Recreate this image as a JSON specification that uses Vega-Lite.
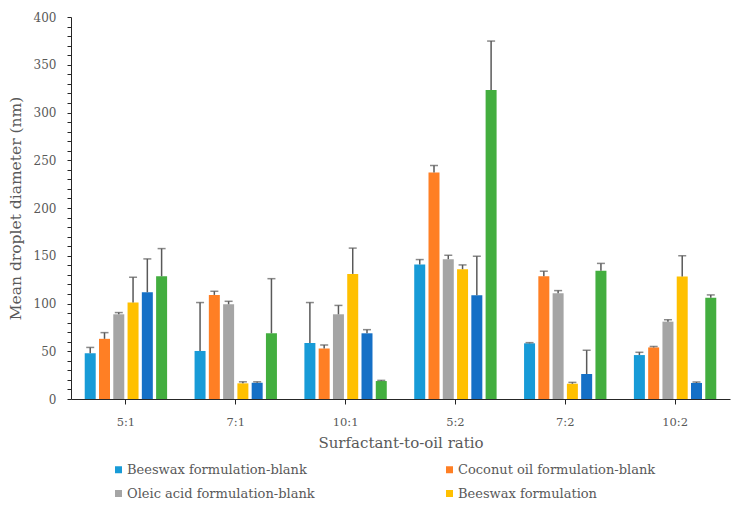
{
  "$schema": "https://vega.github.io/schema/vega-lite/v6.json",
  "width": 659,
  "height": 382,
  "autosize": {"type": "none"},
  "padding": {"left": 71, "top": 17, "right": 2, "bottom": 108},
  "background": "white",
  "config": {
    "font": "DejaVu Serif",
    "view": {"stroke": null},
    "axis": {
      "labelFont": "DejaVu Serif",
      "titleFont": "DejaVu Serif",
      "labelColor": "#595959",
      "titleColor": "#595959",
      "domainColor": "#262626",
      "tickColor": "#262626",
      "domain": true,
      "ticks": true,
      "grid": false,
      "titleFontWeight": "normal"
    },
    "axisY": {
      "tickCount": 40,
      "labelExpr": "datum.value % 50 === 0 ? datum.label : ''",
      "labelOverlap": false,
      "tickSize": 4,
      "labelFontSize": 12,
      "titleFontSize": 15.5,
      "labelPadding": 11,
      "titlePadding": 10,
      "domain": true,
      "ticks": true
    },
    "legend": {
      "orient": "none",
      "legendX": 41,
      "legendY": 446,
      "columns": 2,
      "direction": "horizontal",
      "symbolType": "square",
      "symbolSize": 49,
      "symbolStrokeWidth": 0,
      "labelFont": "DejaVu Serif",
      "labelFontSize": 13,
      "labelColor": "#595959",
      "labelLimit": 400,
      "rowPadding": 10,
      "columnPadding": 128,
      "labelOffset": 2
    }
  },
  "data": {
    "values": [
      {"ratio": "5:1", "series": "Beeswax formulation-blank", "value": 48, "hi": 54},
      {"ratio": "5:1", "series": "Coconut oil formulation-blank", "value": 63, "hi": 69.5},
      {"ratio": "5:1", "series": "Oleic acid formulation-blank", "value": 88.7, "hi": 90.5},
      {"ratio": "5:1", "series": "Beeswax formulation", "value": 101, "hi": 127.5},
      {"ratio": "5:1", "series": "Coconut oil formulation", "value": 111.7, "hi": 146.7},
      {"ratio": "5:1", "series": "Oleic acid formulation", "value": 128.5, "hi": 157.5},
      {"ratio": "7:1", "series": "Beeswax formulation-blank", "value": 50.3, "hi": 101},
      {"ratio": "7:1", "series": "Coconut oil formulation-blank", "value": 109, "hi": 112.8},
      {"ratio": "7:1", "series": "Oleic acid formulation-blank", "value": 99.2, "hi": 102.3},
      {"ratio": "7:1", "series": "Beeswax formulation", "value": 16.4, "hi": 18},
      {"ratio": "7:1", "series": "Coconut oil formulation", "value": 17, "hi": 18},
      {"ratio": "7:1", "series": "Oleic acid formulation", "value": 68.8, "hi": 126},
      {"ratio": "10:1", "series": "Beeswax formulation-blank", "value": 58.7, "hi": 101},
      {"ratio": "10:1", "series": "Coconut oil formulation-blank", "value": 53, "hi": 56.6},
      {"ratio": "10:1", "series": "Oleic acid formulation-blank", "value": 88.7, "hi": 98},
      {"ratio": "10:1", "series": "Beeswax formulation", "value": 131, "hi": 158},
      {"ratio": "10:1", "series": "Coconut oil formulation", "value": 68.8, "hi": 72.6},
      {"ratio": "10:1", "series": "Oleic acid formulation", "value": 18.8, "hi": 19.5},
      {"ratio": "5:2", "series": "Beeswax formulation-blank", "value": 140.8, "hi": 146},
      {"ratio": "5:2", "series": "Coconut oil formulation-blank", "value": 237.2, "hi": 244.5},
      {"ratio": "5:2", "series": "Oleic acid formulation-blank", "value": 146.4, "hi": 150.5},
      {"ratio": "5:2", "series": "Beeswax formulation", "value": 135.9, "hi": 140.4},
      {"ratio": "5:2", "series": "Coconut oil formulation", "value": 108.6, "hi": 149.5},
      {"ratio": "5:2", "series": "Oleic acid formulation", "value": 323.5, "hi": 374.8},
      {"ratio": "7:2", "series": "Beeswax formulation-blank", "value": 58.3, "hi": 59},
      {"ratio": "7:2", "series": "Coconut oil formulation-blank", "value": 128.5, "hi": 133.8},
      {"ratio": "7:2", "series": "Oleic acid formulation-blank", "value": 110.7, "hi": 113.5},
      {"ratio": "7:2", "series": "Beeswax formulation", "value": 16, "hi": 17.4},
      {"ratio": "7:2", "series": "Coconut oil formulation", "value": 26.2, "hi": 51},
      {"ratio": "7:2", "series": "Oleic acid formulation", "value": 134.2, "hi": 142},
      {"ratio": "10:2", "series": "Beeswax formulation-blank", "value": 46, "hi": 48.9},
      {"ratio": "10:2", "series": "Coconut oil formulation-blank", "value": 54, "hi": 55},
      {"ratio": "10:2", "series": "Oleic acid formulation-blank", "value": 81, "hi": 83},
      {"ratio": "10:2", "series": "Beeswax formulation", "value": 128.2, "hi": 150},
      {"ratio": "10:2", "series": "Coconut oil formulation", "value": 16.8, "hi": 17.8},
      {"ratio": "10:2", "series": "Oleic acid formulation", "value": 105.9, "hi": 109}
    ]
  },
  "encoding": {
    "x": {
      "field": "ratio",
      "type": "nominal",
      "sort": ["5:1", "7:1", "10:1", "5:2", "7:2", "10:2"],
      "scale": {"paddingInner": 0.25, "paddingOuter": 0.125},
      "axis": {
        "title": "Surfactant-to-oil ratio",
        "labelAngle": 0,
        "labelFontSize": 11.5,
        "titleFontSize": 15,
        "tickSize": 5,
        "labelPadding": 12,
        "titlePadding": 8
      }
    },
    "xOffset": {
      "field": "series",
      "sort": ["Beeswax formulation-blank", "Coconut oil formulation-blank", "Oleic acid formulation-blank", "Beeswax formulation", "Coconut oil formulation", "Oleic acid formulation"],
      "scale": {"paddingInner": 0.23, "paddingOuter": 0}
    }
  },
  "layer": [
    {
      "mark": {"type": "bar"},
      "encoding": {
        "y": {
          "field": "value",
          "type": "quantitative",
          "scale": {"domain": [0, 400], "nice": false},
          "title": "Mean droplet diameter (nm)"
        },
        "color": {
          "field": "series",
          "type": "nominal",
          "sort": ["Beeswax formulation-blank", "Coconut oil formulation-blank", "Oleic acid formulation-blank", "Beeswax formulation", "Coconut oil formulation", "Oleic acid formulation"],
          "scale": {
            "domain": ["Beeswax formulation-blank", "Coconut oil formulation-blank", "Oleic acid formulation-blank", "Beeswax formulation", "Coconut oil formulation", "Oleic acid formulation"],
            "range": ["#189BD7", "#FF7F24", "#A5A5A5", "#FFC000", "#1570C6", "#43AE3F"]
          },
          "legend": {"title": null, "values": ["Beeswax formulation-blank", "Coconut oil formulation-blank", "Oleic acid formulation-blank", "Beeswax formulation"]}
        }
      }
    },
    {
      "mark": {"type": "rule", "color": "#595959", "strokeWidth": 1.5},
      "encoding": {
        "y": {"field": "value", "type": "quantitative", "title": "Mean droplet diameter (nm)"},
        "y2": {"field": "hi"}
      }
    },
    {
      "mark": {"type": "tick", "color": "#595959", "thickness": 1.5, "size": 8},
      "encoding": {
        "y": {"field": "hi", "type": "quantitative", "title": "Mean droplet diameter (nm)"}
      }
    }
  ]
}
